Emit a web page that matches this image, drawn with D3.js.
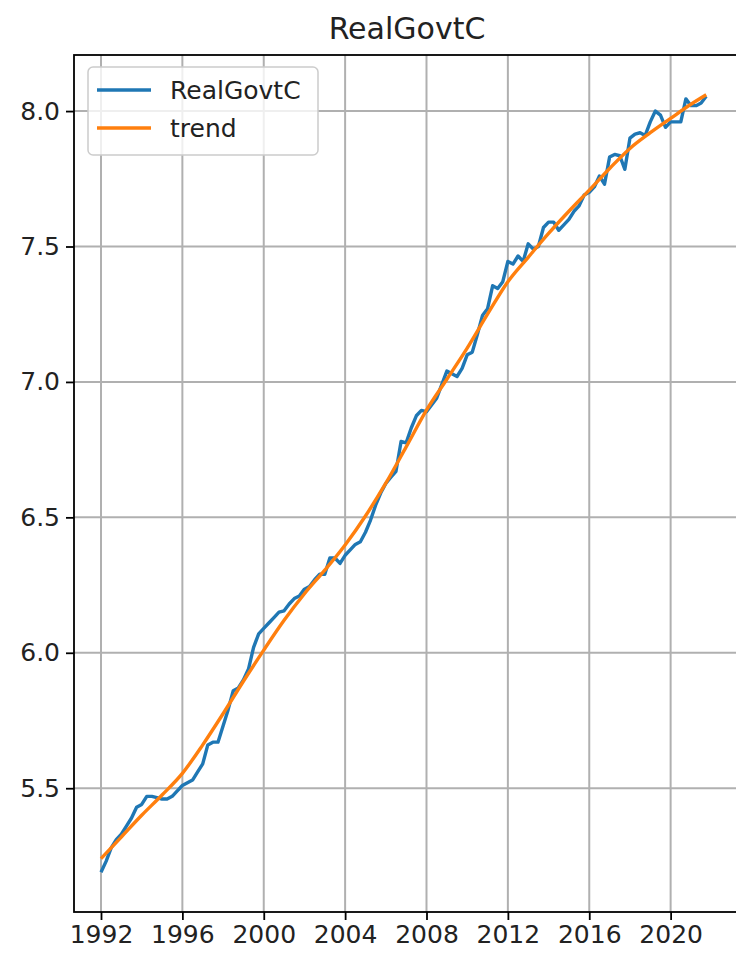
<!DOCTYPE html>
<html>
<head>
<meta charset="utf-8">
<script src="https://cdn.jsdelivr.net/npm/d3@7/dist/d3.min.js"></script>
<style>
  body { margin: 0; background: #fff; }
  text { font-family: "DejaVu Sans", sans-serif; }
</style>
</head>
<body>
<div id="chart"></div>
<script>
// Quarterly series, first quarter 1992 onwards
var startYear = 1992;
var realGovtC = [
  5.19, 5.23, 5.28, 5.31,   5.33, 5.36, 5.39, 5.43,
  5.44, 5.47, 5.47, 5.465,  5.46, 5.46, 5.47, 5.49,
  5.51, 5.52, 5.53, 5.56,   5.59, 5.66, 5.67, 5.67,
  5.73, 5.79, 5.86, 5.87,   5.90, 5.94, 6.02, 6.07,
  6.09, 6.11, 6.13, 6.15,   6.155, 6.18, 6.20, 6.21,
  6.235, 6.245, 6.27, 6.29, 6.29, 6.35, 6.35, 6.33,
  6.36, 6.38, 6.40, 6.41,   6.445, 6.49, 6.545, 6.59,
  6.625, 6.648, 6.67, 6.78, 6.775, 6.83, 6.875, 6.895,
  6.89, 6.915, 6.94, 6.99,  7.04, 7.03, 7.02, 7.05,
  7.10, 7.11, 7.175, 7.245, 7.27, 7.355, 7.345, 7.37,
  7.445, 7.435, 7.465, 7.445, 7.51, 7.49, 7.50, 7.57,
  7.59, 7.59, 7.56, 7.58,   7.60, 7.63, 7.65, 7.69,
  7.70, 7.72, 7.76, 7.73,   7.83, 7.84, 7.835, 7.785,
  7.90, 7.915, 7.92, 7.91,  7.96, 8.00, 7.985, 7.94,
  7.96, 7.96, 7.96, 8.045,  8.02, 8.02, 8.03, 8.055
];

// Trend (smooth), read roughly once a year
var trendYears = [1992, 1993, 1994, 1995, 1996, 1997, 1998, 1999, 2000, 2001,
  2002, 2003, 2004, 2005, 2006, 2007, 2008, 2009, 2010, 2011,
  2012, 2013, 2014, 2015, 2016, 2017, 2018, 2019, 2020, 2021, 2021.75];
var trendValues = [5.24, 5.32, 5.40, 5.475, 5.555, 5.66, 5.775, 5.895, 6.01, 6.12,
  6.218, 6.305, 6.398, 6.505, 6.626, 6.76, 6.896, 7.01, 7.125, 7.25,
  7.37, 7.46, 7.548, 7.63, 7.708, 7.788, 7.862, 7.92, 7.973, 8.025, 8.06];

var xTicks = [1992, 1996, 2000, 2004, 2008, 2012, 2016, 2020];
var yTicks = [5.5, 6.0, 6.5, 7.0, 7.5, 8.0];
var seriesNames = ["RealGovtC", "trend"];
var seriesColors = ["#1f77b4", "#ff7f0e"];

// SVG and plot area (the right edge of the axes runs just past the picture)
var svg_Width = 736;
var svg_Height = 954;
var chart_Margin = { top: 55, right: -4, bottom: 42, left: 74 };
var chart_Width = svg_Width - chart_Margin.left - chart_Margin.right;
var chart_Height = svg_Height - chart_Margin.top - chart_Margin.bottom;

var svg = d3.select("#chart")
  .append("svg")
  .attr("width", svg_Width)
  .attr("height", svg_Height)
  .style("display", "block");

svg.append("rect").attr("width", svg_Width).attr("height", svg_Height).attr("fill", "#fff");

var chart_Group = svg.append("g")
  .attr("transform", `translate(${chart_Margin.left}, ${chart_Margin.top})`);

var x_Scale = d3.scaleLinear()
  .domain([1990.673, 2023.41])
  .range([0, chart_Width]);

var y_Scale = d3.scaleLinear()
  .domain([5.043, 8.207])
  .range([chart_Height, 0]);

// grid
chart_Group.append("g")
  .selectAll("line.vgrid")
  .data(xTicks)
  .enter()
  .append("line")
  .attr("x1", d => x_Scale(d)).attr("x2", d => x_Scale(d))
  .attr("y1", 0).attr("y2", chart_Height)
  .attr("stroke", "#b0b0b0").attr("stroke-width", 2);

chart_Group.append("g")
  .selectAll("line.hgrid")
  .data(yTicks)
  .enter()
  .append("line")
  .attr("x1", 0).attr("x2", chart_Width)
  .attr("y1", d => y_Scale(d)).attr("y2", d => y_Scale(d))
  .attr("stroke", "#b0b0b0").attr("stroke-width", 2);

// lines
var govt_Data = realGovtC.map((v, i) => ({ year: startYear + i * 0.25, value: v }));
var trend_Data = trendYears.map((t, i) => ({ year: t, value: trendValues[i] }));

var line_Gen = d3.line()
  .x(d => x_Scale(d.year))
  .y(d => y_Scale(d.value));

chart_Group.append("path")
  .datum(govt_Data)
  .attr("fill", "none")
  .attr("stroke", seriesColors[0])
  .attr("stroke-width", 3.4)
  .attr("stroke-linejoin", "round")
  .attr("d", line_Gen);

chart_Group.append("path")
  .datum(trend_Data)
  .attr("fill", "none")
  .attr("stroke", seriesColors[1])
  .attr("stroke-width", 3.4)
  .attr("d", line_Gen.curve(d3.curveMonotoneX));

// axes
var bottom_Axis = d3.axisBottom(x_Scale).tickValues(xTicks).tickFormat(d3.format("d"))
  .tickSizeInner(8).tickSizeOuter(0).tickPadding(5);
var left_Axis = d3.axisLeft(y_Scale).tickValues(yTicks).tickFormat(d3.format(".1f"))
  .tickSizeInner(8).tickSizeOuter(0).tickPadding(6);

var x_Axis = chart_Group.append("g")
  .attr("transform", `translate(0, ${chart_Height})`)
  .call(bottom_Axis);
var y_Axis = chart_Group.append("g").call(left_Axis);

[x_Axis, y_Axis].forEach(function(ax) {
  ax.select(".domain").remove();
  ax.selectAll(".tick line").attr("stroke", "#000").attr("stroke-width", 1.8);
  ax.selectAll(".tick text").attr("fill", "#222").style("font-size", "25px");
});

// spines
chart_Group.append("rect")
  .attr("x", 0).attr("y", 0)
  .attr("width", chart_Width).attr("height", chart_Height)
  .attr("fill", "none").attr("stroke", "#000").attr("stroke-width", 1.8);

// title
svg.append("text")
  .attr("x", chart_Margin.left + chart_Width / 2)
  .attr("y", 39)
  .attr("text-anchor", "middle")
  .attr("fill", "#222")
  .style("font-size", "30px")
  .text("RealGovtC");

// legend
var legend = chart_Group.append("g").attr("transform", "translate(14, 12)");
legend.append("rect")
  .attr("width", 230).attr("height", 88)
  .attr("rx", 5)
  .attr("fill", "#fff").attr("fill-opacity", 0.8)
  .attr("stroke", "#cccccc").attr("stroke-width", 1.5);

seriesNames.forEach(function(name, i) {
  var yy = 23 + i * 38;
  legend.append("line")
    .attr("x1", 9).attr("x2", 63)
    .attr("y1", yy).attr("y2", yy)
    .attr("stroke", seriesColors[i]).attr("stroke-width", 3.4);
  legend.append("text")
    .attr("x", 82).attr("y", yy + 9)
    .attr("fill", "#222")
    .style("font-size", "25px")
    .text(name);
});
</script>
</body>
</html>
